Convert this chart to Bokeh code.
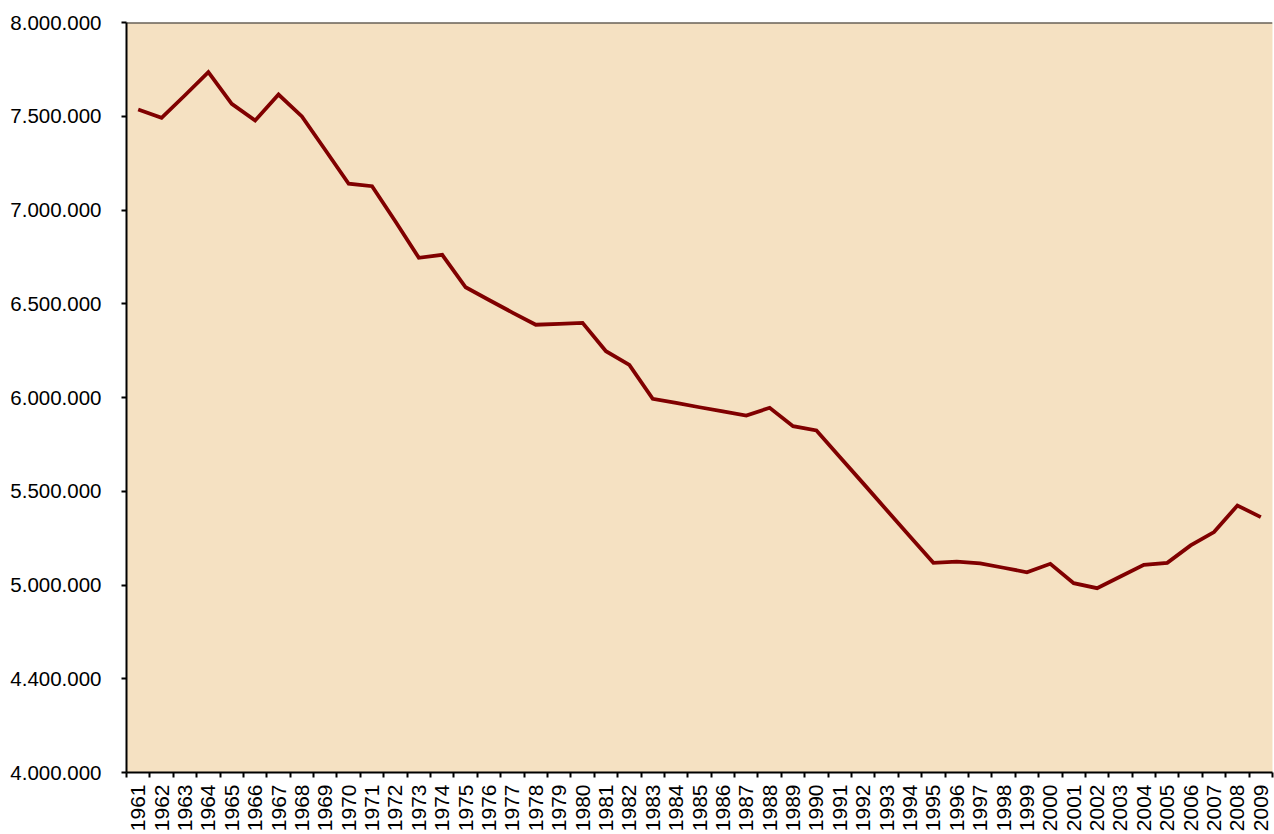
import math
from bokeh.plotting import figure
from bokeh.models import FixedTicker, Span, Range1d
from bokeh.embed import file_html
from bokeh.resources import INLINE

years = list(range(1961, 2010))
values = [
    7536000, 7492000, 7612000, 7735000, 7566000, 7477000, 7616000, 7499000, 7320000, 7140000,
    7127000, 6939000, 6745000, 6761000, 6588000, 6520000, 6453000, 6388000, 6393000, 6398000,
    6247000, 6174000, 5993000, 5971000, 5948000, 5926000, 5904000, 5945000, 5847000, 5824000,
    5683000, 5542000, 5400000, 5259000, 5118000, 5125000, 5115000, 5092000, 5068000, 5113000,
    5010000, 4983000, 5045000, 5108000, 5118000, 5211000, 5282000, 5424000, 5362000,
]
y_ticks = [4000000, 4500000, 5000000, 5500000, 6000000, 6500000, 7000000, 7500000, 8000000]
y_tick_labels = ["4.000.000", "4.400.000", "5.000.000", "5.500.000", "6.000.000",
                 "6.500.000", "7.000.000", "7.500.000", "8.000.000"]

FONT = "Liberation Sans"

p = figure(width=1274, height=834, output_backend="svg", toolbar_location=None,
           x_range=Range1d(years[0] - 0.5, years[-1] + 0.5),
           y_range=Range1d(4000000, 8000000),
           min_border_left=126, min_border_top=22, min_border_right=2)
p.background_fill_color = "#F5E1C2"
p.border_fill_color = "white"
p.outline_line_color = None
p.grid.visible = False

p.line(years, values, line_color="#800000", line_width=3.8, line_join="miter")

p.add_layout(Span(location=8000000, dimension="width", line_color="#222222", line_width=2))

# x axis
xa = p.xaxis[0]
xa.ticker = FixedTicker(ticks=years, minor_ticks=[y - 0.5 for y in years] + [years[-1] + 0.5])
xa.major_tick_out = 0
xa.major_tick_in = 0
xa.minor_tick_out = 5
xa.minor_tick_in = 0
xa.minor_tick_line_color = "black"
xa.minor_tick_line_width = 2
xa.axis_line_color = "black"
xa.axis_line_width = 2
xa.major_label_orientation = math.pi / 2
xa.major_label_text_font = FONT
xa.major_label_text_font_size = "21px"
xa.major_label_text_color = "black"
xa.major_label_standoff = 7

# y axis
ya = p.yaxis[0]
ya.ticker = FixedTicker(ticks=y_ticks)
ya.major_label_overrides = {t: l for t, l in zip(y_ticks, y_tick_labels)}
ya.major_tick_out = 5
ya.major_tick_in = 0
ya.minor_tick_line_color = None
ya.major_tick_line_color = "black"
ya.major_tick_line_width = 2
ya.axis_line_color = "black"
ya.axis_line_width = 2
ya.major_label_text_font = FONT
ya.major_label_text_font_size = "20.5px"
ya.major_label_text_color = "black"
ya.major_label_standoff = 20

open("out.html", "w").write(file_html(p, INLINE))
